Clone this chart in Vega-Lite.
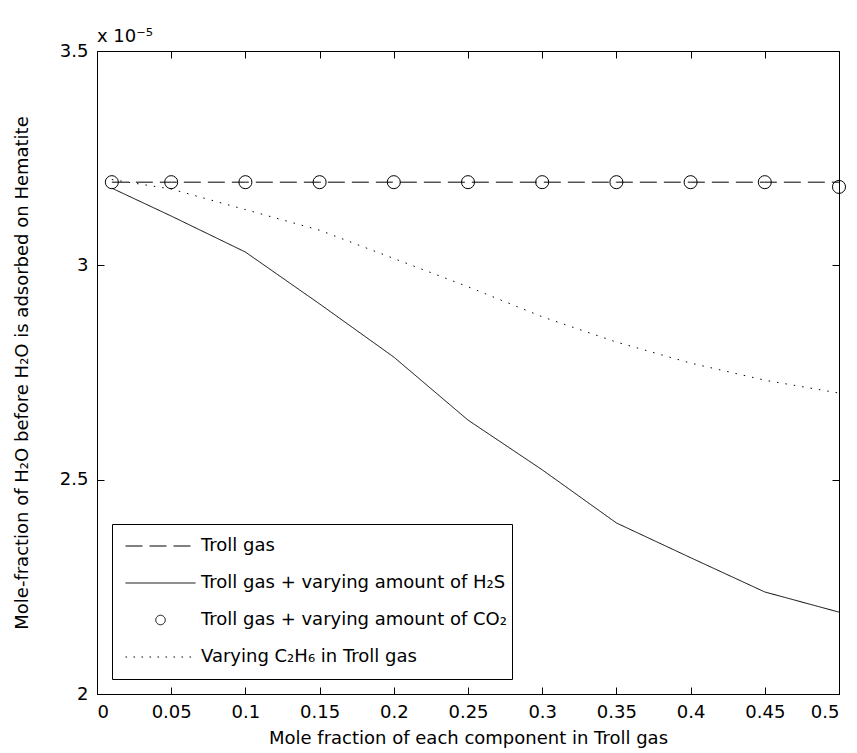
{
  "$schema": "https://vega.github.io/schema/vega-lite/v6.json",
  "width": 742,
  "height": 643,
  "autosize": {"type": "none"},
  "padding": {"left": 97, "top": 51, "right": 18, "bottom": 59},
  "background": "white",
  "title": {
    "text": "x 10⁻⁵",
    "anchor": "start",
    "frame": "group",
    "font": "DejaVu Sans",
    "fontSize": 18,
    "fontWeight": "normal",
    "color": "black",
    "baseline": "alphabetic",
    "offset": 11,
    "dy": 29
  },
  "data": {
    "values": [
      {"s": "Troll gas", "x": 0.01, "y": 3.194e-5},
      {"s": "Troll gas", "x": 0.05, "y": 3.194e-5},
      {"s": "Troll gas", "x": 0.1, "y": 3.194e-5},
      {"s": "Troll gas", "x": 0.15, "y": 3.194e-5},
      {"s": "Troll gas", "x": 0.2, "y": 3.194e-5},
      {"s": "Troll gas", "x": 0.25, "y": 3.194e-5},
      {"s": "Troll gas", "x": 0.3, "y": 3.194e-5},
      {"s": "Troll gas", "x": 0.35, "y": 3.194e-5},
      {"s": "Troll gas", "x": 0.4, "y": 3.194e-5},
      {"s": "Troll gas", "x": 0.45, "y": 3.194e-5},
      {"s": "Troll gas", "x": 0.5, "y": 3.194e-5},
      {"s": "Troll gas + varying amount of H₂S", "x": 0.01, "y": 3.180e-5},
      {"s": "Troll gas + varying amount of H₂S", "x": 0.05, "y": 3.115e-5},
      {"s": "Troll gas + varying amount of H₂S", "x": 0.1, "y": 3.031e-5},
      {"s": "Troll gas + varying amount of H₂S", "x": 0.15, "y": 2.910e-5},
      {"s": "Troll gas + varying amount of H₂S", "x": 0.2, "y": 2.786e-5},
      {"s": "Troll gas + varying amount of H₂S", "x": 0.25, "y": 2.639e-5},
      {"s": "Troll gas + varying amount of H₂S", "x": 0.3, "y": 2.523e-5},
      {"s": "Troll gas + varying amount of H₂S", "x": 0.35, "y": 2.399e-5},
      {"s": "Troll gas + varying amount of H₂S", "x": 0.4, "y": 2.318e-5},
      {"s": "Troll gas + varying amount of H₂S", "x": 0.45, "y": 2.238e-5},
      {"s": "Troll gas + varying amount of H₂S", "x": 0.5, "y": 2.191e-5},
      {"s": "Troll gas + varying amount of CO₂", "x": 0.01, "y": 3.194e-5},
      {"s": "Troll gas + varying amount of CO₂", "x": 0.05, "y": 3.194e-5},
      {"s": "Troll gas + varying amount of CO₂", "x": 0.1, "y": 3.194e-5},
      {"s": "Troll gas + varying amount of CO₂", "x": 0.15, "y": 3.194e-5},
      {"s": "Troll gas + varying amount of CO₂", "x": 0.2, "y": 3.194e-5},
      {"s": "Troll gas + varying amount of CO₂", "x": 0.25, "y": 3.194e-5},
      {"s": "Troll gas + varying amount of CO₂", "x": 0.3, "y": 3.194e-5},
      {"s": "Troll gas + varying amount of CO₂", "x": 0.35, "y": 3.194e-5},
      {"s": "Troll gas + varying amount of CO₂", "x": 0.4, "y": 3.194e-5},
      {"s": "Troll gas + varying amount of CO₂", "x": 0.45, "y": 3.194e-5},
      {"s": "Troll gas + varying amount of CO₂", "x": 0.5, "y": 3.183e-5},
      {"s": "Varying C₂H₆ in Troll gas", "x": 0.01, "y": 3.200e-5},
      {"s": "Varying C₂H₆ in Troll gas", "x": 0.05, "y": 3.178e-5},
      {"s": "Varying C₂H₆ in Troll gas", "x": 0.1, "y": 3.130e-5},
      {"s": "Varying C₂H₆ in Troll gas", "x": 0.15, "y": 3.082e-5},
      {"s": "Varying C₂H₆ in Troll gas", "x": 0.2, "y": 3.016e-5},
      {"s": "Varying C₂H₆ in Troll gas", "x": 0.25, "y": 2.950e-5},
      {"s": "Varying C₂H₆ in Troll gas", "x": 0.3, "y": 2.880e-5},
      {"s": "Varying C₂H₆ in Troll gas", "x": 0.35, "y": 2.821e-5},
      {"s": "Varying C₂H₆ in Troll gas", "x": 0.4, "y": 2.772e-5},
      {"s": "Varying C₂H₆ in Troll gas", "x": 0.45, "y": 2.732e-5},
      {"s": "Varying C₂H₆ in Troll gas", "x": 0.5, "y": 2.702e-5}
    ]
  },
  "layer": [
    {
      "transform": [{"filter": "datum.s !== 'Troll gas + varying amount of CO₂'"}],
      "mark": {"type": "line", "strokeWidth": 1, "strokeCap": "butt", "clip": false},
      "encoding": {
        "x": {
          "field": "x", "type": "quantitative",
          "scale": {"domain": [0, 0.5], "nice": false, "zero": false},
          "axis": {
            "orient": "bottom",
            "title": "Mole fraction of each component in Troll gas",
            "values": [0, 0.05, 0.1, 0.15, 0.2, 0.25, 0.3, 0.35, 0.4, 0.45, 0.5],
            "format": "~g",
            "tickSize": -7,
            "labelPadding": 16,
            "titlePadding": 8
          }
        },
        "y": {
          "field": "y", "type": "quantitative",
          "scale": {"domain": [2e-5, 3.5e-5], "nice": false, "zero": false},
          "axis": {
            "orient": "left",
            "title": "Mole-fraction of H₂O before H₂O is adsorbed on Hematite",
            "values": [2e-5, 2.5e-5, 3e-5, 3.5e-5],
            "labelExpr": "round(datum.value*1e6)/10",
            "tickSize": -7,
            "labelPadding": 16,
            "titlePadding": 28
          }
        },
        "color": {
          "field": "s", "type": "nominal",
          "scale": {
            "domain": ["Troll gas", "Troll gas + varying amount of H₂S", "Troll gas + varying amount of CO₂", "Varying C₂H₆ in Troll gas"],
            "range": ["black", "black", "black", "black"]
          },
          "legend": {
            "title": null,
            "orient": "none",
            "legendX": 15,
            "legendY": 473,
            "padding": 5,
            "strokeColor": "black",
            "fillColor": "white",
            "symbolSize": 100,
            "symbolOffset": 8,
            "labelOffset": 5,
            "clipHeight": 34,
            "rowPadding": 3,
            "labelFont": "DejaVu Sans",
            "labelFontSize": 18,
            "labelColor": "black",
            "labelLimit": 1000,
            "encode": {
              "symbols": {
                "update": {
                  "shape": {"signal": "datum.value === 'Troll gas + varying amount of CO₂' ? 'circle' : 'stroke'"},
                  "size": {"signal": "datum.value === 'Troll gas + varying amount of CO₂' ? 90 : 4900"},
                  "strokeDash": {"signal": "datum.value === 'Troll gas' ? [17, 7] : (datum.value === 'Varying C₂H₆ in Troll gas' ? [1.5, 6.5] : [1, 0])"},
                  "fill": {"value": "transparent"},
                  "stroke": {"value": "black"},
                  "strokeWidth": {"value": 1},
                  "opacity": {"value": 1}
                }
              }
            }
          }
        },
        "strokeDash": {
          "field": "s", "type": "nominal",
          "scale": {
            "domain": ["Troll gas", "Troll gas + varying amount of H₂S", "Varying C₂H₆ in Troll gas"],
            "range": [[17, 7], [1, 0], [1.5, 7]]
          },
          "legend": null
        }
      }
    },
    {
      "transform": [{"filter": "datum.s === 'Troll gas + varying amount of CO₂'"}],
      "mark": {"type": "point", "shape": "circle", "filled": false, "size": 170, "strokeWidth": 1, "opacity": 1, "clip": false},
      "encoding": {
        "x": {
          "field": "x", "type": "quantitative",
          "axis": {
            "orient": "top",
            "title": null,
            "labels": false,
            "values": [0, 0.05, 0.1, 0.15, 0.2, 0.25, 0.3, 0.35, 0.4, 0.45, 0.5],
            "tickSize": -7
          }
        },
        "y": {
          "field": "y", "type": "quantitative",
          "axis": {
            "orient": "right",
            "title": null,
            "labels": false,
            "values": [2e-5, 2.5e-5, 3e-5, 3.5e-5],
            "tickSize": -7
          }
        },
        "color": {"field": "s", "type": "nominal"}
      }
    }
  ],
  "resolve": {"axis": {"x": "independent", "y": "independent"}},
  "config": {
    "view": {"stroke": null},
    "axis": {
      "grid": false,
      "domainColor": "black",
      "domainWidth": 1,
      "tickColor": "black",
      "tickWidth": 1,
      "labelColor": "black",
      "labelFont": "DejaVu Sans",
      "labelFontSize": 18,
      "titleColor": "black",
      "titleFont": "DejaVu Sans",
      "titleFontSize": 18,
      "titleFontWeight": "normal"
    }
  }
}
